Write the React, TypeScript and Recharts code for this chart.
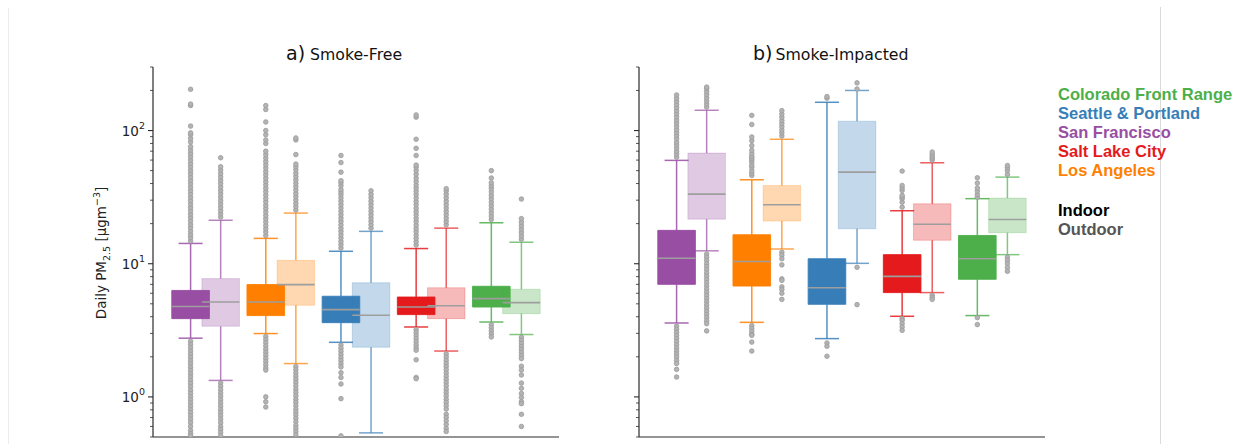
import React from 'react';
import { ComposedChart, XAxis, YAxis, ReferenceArea, ReferenceLine, Scatter } from 'recharts';

// Regions in plotting order and their Set1 colours
const regions = ['San Francisco', 'Los Angeles', 'Seattle & Portland', 'Salt Lake City', 'Colorado Front Range'];
const regionColors = ['#984ea3', '#ff7f00', '#377eb8', '#e41a1c', '#4daf4a'];
// Legend rows, top to bottom (indices into regions)
const legendOrder = [4, 2, 0, 3, 1];
const siteLabels = ['Indoor', 'Outdoor'];
const siteLabelColors = ['#000000', '#555555'];

const panelTitles = ['Smoke-Free', 'Smoke-Impacted'];
const panelLetters = ['a)', 'b)'];

// Log axis ticks; majors carry a 10^n label
const yTicks = [0.5, 0.6, 0.7, 0.8, 0.9, 1, 2, 3, 4, 5, 6, 7, 8, 9, 10, 20, 30, 40, 50, 60, 70, 80, 90, 100, 200, 300];
const majorTicks = [1, 10, 100];
const majorTickExponents = ['0', '1', '2'];

// ---- Smoke-free days, indoor monitors ----
const freeIndoorQ1 = [3.87, 4.08, 3.61, 4.15, 4.73];
const freeIndoorMedian = [4.77, 5.16, 4.52, 4.73, 5.47];
const freeIndoorQ3 = [6.3, 6.97, 5.7, 5.62, 6.77];
const freeIndoorLow = [2.76, 2.99, 2.57, 3.35, 3.65];
const freeIndoorHigh = [14.2, 15.5, 12.4, 13.0, 20.3];
const freeIndoorOutliers = [
  [14.8, 15.7, 16.6, 17.6, 18.7, 19.8, 21, 22.3, 23.6, 25, 26.5, 28.1, 29.8, 31.6, 33.5, 35.5, 37.6, 39.9, 42.3, 44.8, 47.5, 50.4, 53.4, 56.6, 60, 63.6, 67.4, 71.4, 75.7, 82, 87, 93, 96, 108, 154, 158, 204,
    2.62, 2.48, 2.34, 2.21, 2.09, 1.98, 1.87, 1.77, 1.67, 1.58, 1.49, 1.41, 1.33, 1.26, 1.19, 1.12, 1.06, 1.0, 0.95, 0.9, 0.85, 0.8, 0.76, 0.72, 0.68, 0.64, 0.6, 0.56, 0.53, 0.51],
  [16.3, 17.3, 18.3, 19.4, 20.6, 21.8, 23.1, 24.5, 26, 27.5, 29.2, 30.9, 32.8, 34.8, 36.9, 39.1, 41.4, 43.9, 46.5, 49.3, 52.3, 55.4, 58.7, 62.2, 66, 70, 80, 85, 93, 100, 116, 144, 154,
    2.84, 2.69, 2.55, 2.41, 2.28, 2.16, 2.05, 1.94, 1.84, 1.74, 1.65, 1.59, 1.0, 0.92, 0.84],
  [13.1, 13.9, 14.7, 15.6, 16.5, 17.5, 18.5, 19.6, 20.8, 22, 23.3, 24.7, 26.2, 27.8, 29.5, 31.2, 33, 34.5, 36, 38.5, 40.5, 42, 48.7, 57.5, 65,
    2.45, 2.32, 2.2, 2.08, 1.97, 1.87, 1.77, 1.68, 1.52, 1.4, 1.25, 0.97, 0.51],
  [13.8, 14.6, 15.5, 16.4, 17.4, 18.4, 19.5, 20.7, 21.9, 23.2, 24.6, 26.1, 27.7, 29.3, 31.1, 33, 35, 37, 39, 41.5, 44, 47, 50, 53, 55, 65, 73.5, 86, 126, 131,
    3.2, 3.04, 2.88, 2.73, 2.59, 2.45, 2.33, 2.24, 1.9, 1.4, 1.37],
  [21.5, 22.8, 24.2, 25.7, 27.3, 29, 30.8, 32.7, 34.7, 36.8, 38.5, 40.5, 44, 50,
    3.48, 3.3, 3.13, 2.97, 2.82],
];

// ---- Smoke-free days, outdoor monitors ----
const freeOutdoorQ1 = [3.39, 4.87, 2.36, 3.87, 4.22];
const freeOutdoorMedian = [5.16, 6.97, 4.1, 4.84, 5.1];
const freeOutdoorQ3 = [7.73, 10.6, 7.2, 6.6, 6.43];
const freeOutdoorLow = [1.33, 1.78, 0.537, 2.21, 2.94];
const freeOutdoorHigh = [21.2, 24, 17.5, 18.5, 14.5];
const freeOutdoorOutliers = [
  [22.4, 23.7, 25.1, 26.6, 28.2, 29.9, 31.7, 33.6, 35.6, 37.7, 40, 42.4, 44.9, 47.6, 50.5, 53.5, 62.5,
    1.27, 1.2, 1.13, 1.07, 1.01, 0.95, 0.9, 0.85, 0.8, 0.76, 0.72, 0.68, 0.64, 0.6, 0.57, 0.54, 0.51],
  [25.3, 26.8, 28.4, 30.1, 31.9, 33.8, 35.8, 37.9, 40.2, 42.6, 45.1, 47.8, 50.7, 53.5, 56, 66, 85, 88,
    1.69, 1.6, 1.51, 1.43, 1.35, 1.28, 1.21, 1.14, 1.08, 1.02, 0.96, 0.91, 0.86, 0.81, 0.77, 0.73, 0.69, 0.65, 0.61, 0.58, 0.55, 0.52],
  [18.5, 19.6, 20.8, 22, 23.3, 24.7, 26.2, 27.8, 29.5, 31.3, 33.2, 35.3],
  [19.6, 20.8, 22, 23.3, 24.7, 26.2, 27.8, 29.5, 31.3, 33.2, 35.2, 36.6,
    2.1, 1.99, 1.88, 1.78, 1.69, 1.6, 1.51, 1.43, 1.35, 1.28, 1.21, 1.14, 1.08, 1.02, 0.96, 0.91, 0.86, 0.81, 0.74, 0.7, 0.66, 0.62, 0.58, 0.55],
  [15.3, 16.2, 17.2, 18.2, 19.3, 20.5, 21.8, 30.6,
    2.8, 2.66, 2.52, 2.39, 2.27, 2.15, 2.04, 1.94, 1.7, 1.59, 1.46, 1.27, 1.16, 1.06, 0.99, 0.92, 0.89, 0.74, 0.6],
];

// ---- Smoke-impacted days, indoor monitors ----
const smokeIndoorQ1 = [7.0, 6.8, 4.96, 6.07, 7.64];
const smokeIndoorMedian = [11.0, 10.4, 6.6, 8.04, 10.9];
const smokeIndoorQ3 = [17.8, 16.5, 10.9, 11.7, 16.3];
const smokeIndoorLow = [3.59, 3.63, 2.74, 4.03, 4.08];
const smokeIndoorHigh = [59.7, 42.7, 163, 25, 30.8];
const smokeIndoorOutliers = [
  [63, 66.5, 70, 74, 78, 82, 87, 92, 97, 102, 108, 114, 120, 127, 134, 141, 149, 157, 166, 175, 185,
    3.4, 3.22, 3.05, 2.89, 2.74, 2.6, 2.46, 2.33, 2.21, 2.1, 1.99, 1.88, 1.78, 1.61, 1.41],
  [46, 48, 50, 53, 55, 58, 60, 62, 64, 67, 71, 77, 84, 89.5, 111, 130,
    3.44, 3.27, 3.1, 2.95, 2.9, 2.58, 2.21],
  [175, 180, 2.54, 2.4, 2.02],
  [26.6, 29, 30.8, 31.6, 32.6, 35.5, 37, 38.7, 49.6, 3.87, 3.76, 3.55, 3.35, 3.16],
  [31.6, 33.1, 35.1, 37, 40.3, 44.2, 3.94, 3.49],
];

// ---- Smoke-impacted days, outdoor monitors ----
const smokeOutdoorQ1 = [21.6, 20.9, 18.3, 15, 17.1];
const smokeOutdoorMedian = [33.3, 27.7, 48.7, 19.8, 21.5];
const smokeOutdoorQ3 = [67.7, 38.7, 117.5, 28.2, 31.1];
const smokeOutdoorLow = [12.5, 12.9, 10.07, 6.07, 11.7];
const smokeOutdoorHigh = [142, 86, 200, 57.3, 44.7];
const smokeOutdoorOutliers = [
  [150, 158, 167, 176, 186, 196, 207, 212,
    11.8, 11.2, 10.6, 10, 9.5, 9, 8.5, 8.05, 7.6, 7.2, 6.8, 6.45, 6.1, 5.78, 5.47, 5.18, 4.9, 4.64, 4.39, 4.16, 3.94, 3.73, 3.55, 3.13],
  [91, 96, 101, 107, 113, 119, 126, 133, 141, 12.2, 11.6, 10.9, 9.8, 7.7, 7.5, 6.7, 6.4, 6.0, 5.4],
  [205, 228, 9.4, 4.93],
  [60, 62, 64, 66.5, 69, 5.8, 5.6, 5.4],
  [46.9, 50.2, 52.6, 54.6, 11.2, 10.6, 10.0, 9.35, 8.77],
];

type BoxStats = {
  q1: number[];
  median: number[];
  q3: number[];
  low: number[];
  high: number[];
  outliers: number[][];
};

const freeIndoor: BoxStats = { q1: freeIndoorQ1, median: freeIndoorMedian, q3: freeIndoorQ3, low: freeIndoorLow, high: freeIndoorHigh, outliers: freeIndoorOutliers };
const freeOutdoor: BoxStats = { q1: freeOutdoorQ1, median: freeOutdoorMedian, q3: freeOutdoorQ3, low: freeOutdoorLow, high: freeOutdoorHigh, outliers: freeOutdoorOutliers };
const smokeIndoor: BoxStats = { q1: smokeIndoorQ1, median: smokeIndoorMedian, q3: smokeIndoorQ3, low: smokeIndoorLow, high: smokeIndoorHigh, outliers: smokeIndoorOutliers };
const smokeOutdoor: BoxStats = { q1: smokeOutdoorQ1, median: smokeOutdoorMedian, q3: smokeOutdoorQ3, low: smokeOutdoorLow, high: smokeOutdoorHigh, outliers: smokeOutdoorOutliers };

// Box geometry in category units
const INDOOR_OFFSET = -0.2;
const OUTDOOR_OFFSET = 0.2;
const BOX_HALF = 0.25;
const CAP_HALF = 0.16;
const X_DOMAIN: [number, number] = [-0.7, 4.7];
const Y_DOMAIN: [number, number] = [0.5, 300];
const xTicks = regions.flatMap((_, i) => [i + INDOOR_OFFSET, i + OUTDOOR_OFFSET]);

const AXIS_COLOR = '#2b2b2b';
const MEDIAN_COLOR = '#9e9e9e';
const FONT = '"DejaVu Sans", sans-serif';

function makeYTick(showLabels: boolean) {
  return function YTick(props: any) {
    const { x, y, payload } = props;
    const v = payload.value;
    const majorIdx = majorTicks.indexOf(v);
    const major = majorIdx >= 0;
    return (
      <g>
        <line x1={x - (major ? 5 : 3)} x2={x} y1={y} y2={y} stroke={AXIS_COLOR} strokeWidth={major ? 1.1 : 0.8} />
        {showLabels && major && (
          <text x={x - 8} y={y + 5} textAnchor="end" fontSize={13.5} fill="#222" fontFamily={FONT}>
            10
            <tspan dy={-7} fontSize={9.5}>{majorTickExponents[majorIdx]}</tspan>
          </text>
        )}
      </g>
    );
  };
}

function boxAreas(stats: BoxStats, offset: number, fillOpacity: number, strokeOpacity: number, tag: string) {
  return regions.map((_, i) => {
    const x = i + offset;
    const c = regionColors[i];
    return (
      <ReferenceArea
        key={`${tag}-box-${i}`}
        x1={x - BOX_HALF}
        x2={x + BOX_HALF}
        y1={stats.q1[i]}
        y2={stats.q3[i]}
        fill={c}
        fillOpacity={fillOpacity}
        stroke={c}
        strokeOpacity={strokeOpacity}
        strokeWidth={1}
        ifOverflow="visible"
      />
    );
  });
}

function boxLines(stats: BoxStats, offset: number, whiskerOpacity: number, tag: string) {
  return regions.flatMap((_, i) => {
    const x = i + offset;
    const c = regionColors[i];
    const common = { stroke: c, strokeOpacity: whiskerOpacity, strokeWidth: 1.5, ifOverflow: 'visible' as const };
    return [
      <ReferenceLine key={`${tag}-wu-${i}`} segment={[{ x, y: stats.q3[i] }, { x, y: stats.high[i] }]} {...common} />,
      <ReferenceLine key={`${tag}-wl-${i}`} segment={[{ x, y: stats.q1[i] }, { x, y: stats.low[i] }]} {...common} />,
      <ReferenceLine key={`${tag}-cu-${i}`} segment={[{ x: x - CAP_HALF, y: stats.high[i] }, { x: x + CAP_HALF, y: stats.high[i] }]} {...common} />,
      <ReferenceLine key={`${tag}-cl-${i}`} segment={[{ x: x - CAP_HALF, y: stats.low[i] }, { x: x + CAP_HALF, y: stats.low[i] }]} {...common} />,
      <ReferenceLine
        key={`${tag}-md-${i}`}
        segment={[{ x: x - BOX_HALF, y: stats.median[i] }, { x: x + BOX_HALF, y: stats.median[i] }]}
        stroke={MEDIAN_COLOR}
        strokeWidth={1.6}
        ifOverflow="visible"
      />,
    ];
  });
}

function outlierPoints(indoor: BoxStats, outdoor: BoxStats) {
  const pts: { x: number; y: number }[] = [];
  regions.forEach((_, i) => {
    indoor.outliers[i].forEach((v) => pts.push({ x: i + INDOOR_OFFSET, y: v }));
    outdoor.outliers[i].forEach((v) => pts.push({ x: i + OUTDOOR_OFFSET, y: v }));
  });
  return pts;
}

const OutlierDot = (props: any) => {
  const { cx, cy } = props;
  if (cx == null || cy == null) return null;
  return <circle cx={cx} cy={cy} r={2.3} fill="#b3b3b3" stroke="#9c9c9c" strokeWidth={0.8} />;
};

type PanelProps = {
  left: number;
  width: number;
  marginLeft: number;
  yAxisWidth: number;
  marginRight: number;
  showLabels: boolean;
  indoor: BoxStats;
  outdoor: BoxStats;
};

function Panel({ left, width, marginLeft, yAxisWidth, marginRight, showLabels, indoor, outdoor }: PanelProps) {
  const points = outlierPoints(indoor, outdoor);
  return (
    <div style={{ position: 'absolute', left, top: 0 }}>
      <ComposedChart width={width} height={444} margin={{ top: 67, right: marginRight, bottom: 0, left: marginLeft }}>
        <XAxis
          type="number"
          dataKey="x"
          domain={X_DOMAIN}
          allowDataOverflow
          ticks={xTicks}
          interval={0}
          tick={false}
          tickSize={4}
          height={7}
          axisLine={{ stroke: AXIS_COLOR, strokeWidth: 1.2 }}
          tickLine={{ stroke: AXIS_COLOR, strokeWidth: 1 }}
        />
        <YAxis
          type="number"
          dataKey="y"
          scale="log"
          domain={Y_DOMAIN}
          allowDataOverflow
          ticks={yTicks}
          interval={0}
          width={yAxisWidth}
          tickSize={0}
          tickMargin={0}
          tickLine={false}
          tick={makeYTick(showLabels)}
          axisLine={{ stroke: AXIS_COLOR, strokeWidth: 1.2 }}
        />
        {boxAreas(indoor, INDOOR_OFFSET, 1, 0.9, 'in')}
        {boxAreas(outdoor, OUTDOOR_OFFSET, 0.3, 0.22, 'out')}
        {boxLines(indoor, INDOOR_OFFSET, 0.85, 'in')}
        {boxLines(outdoor, OUTDOOR_OFFSET, 0.7, 'out')}
        <Scatter data={points} dataKey="y" shape={OutlierDot} isAnimationActive={false} />
      </ComposedChart>
    </div>
  );
}

export default function App() {
  const legendX = 1058;
  return (
    <div style={{ position: 'absolute', left: 0, top: 0, width: 1240, height: 444, background: '#fff', overflow: 'hidden' }}>
      <Panel left={0} width={600} marginLeft={93} yAxisWidth={60} marginRight={41} showLabels indoor={freeIndoor} outdoor={freeOutdoor} />
      <Panel left={560} width={500} marginLeft={59} yAxisWidth={20} marginRight={15} showLabels={false} indoor={smokeIndoor} outdoor={smokeOutdoor} />
      <svg width={1240} height={444} style={{ position: 'absolute', left: 0, top: 0, pointerEvents: 'none' }}>
        <line x1={8.5} x2={8.5} y1={8} y2={444} stroke="#ececec" strokeWidth={1} />
        <line x1={1160.5} x2={1160.5} y1={7} y2={444} stroke="#dadada" strokeWidth={1} />

        <text x={286} y={60} fontFamily={FONT} fill="#111">
          <tspan fontSize={19}>{panelLetters[0]}</tspan>
          <tspan dx={5} fontSize={16} textLength={92} lengthAdjust="spacingAndGlyphs">{panelTitles[0]}</tspan>
        </text>
        <text x={753} y={60} fontFamily={FONT} fill="#111">
          <tspan fontSize={19}>{panelLetters[1]}</tspan>
          <tspan dx={3} fontSize={16} textLength={133} lengthAdjust="spacingAndGlyphs">{panelTitles[1]}</tspan>
        </text>

        <text transform="translate(106,253) rotate(-90)" textAnchor="middle" fontFamily={FONT} fontSize={13.5} fill="#222">
          Daily PM
          <tspan dy={4} fontSize={9.5}>2.5</tspan>
          <tspan dy={-4}> [μgm</tspan>
          <tspan dy={-6} fontSize={9.5}>−3</tspan>
          <tspan dy={6}>]</tspan>
        </text>

        {legendOrder.map((ri, k) => (
          <text
            key={regions[ri]}
            x={legendX}
            y={99.5 + k * 19.2}
            fontFamily='"Liberation Sans", Arial, sans-serif'
            fontWeight="bold"
            fontSize={16.5}
            fill={regionColors[ri]}
          >
            {regions[ri]}
          </text>
        ))}
        {siteLabels.map((s, k) => (
          <text
            key={s}
            x={legendX}
            y={215.5 + k * 19.3}
            fontFamily='"Liberation Sans", Arial, sans-serif'
            fontWeight="bold"
            fontSize={16.5}
            fill={siteLabelColors[k]}
          >
            {s}
          </text>
        ))}
      </svg>
    </div>
  );
}
